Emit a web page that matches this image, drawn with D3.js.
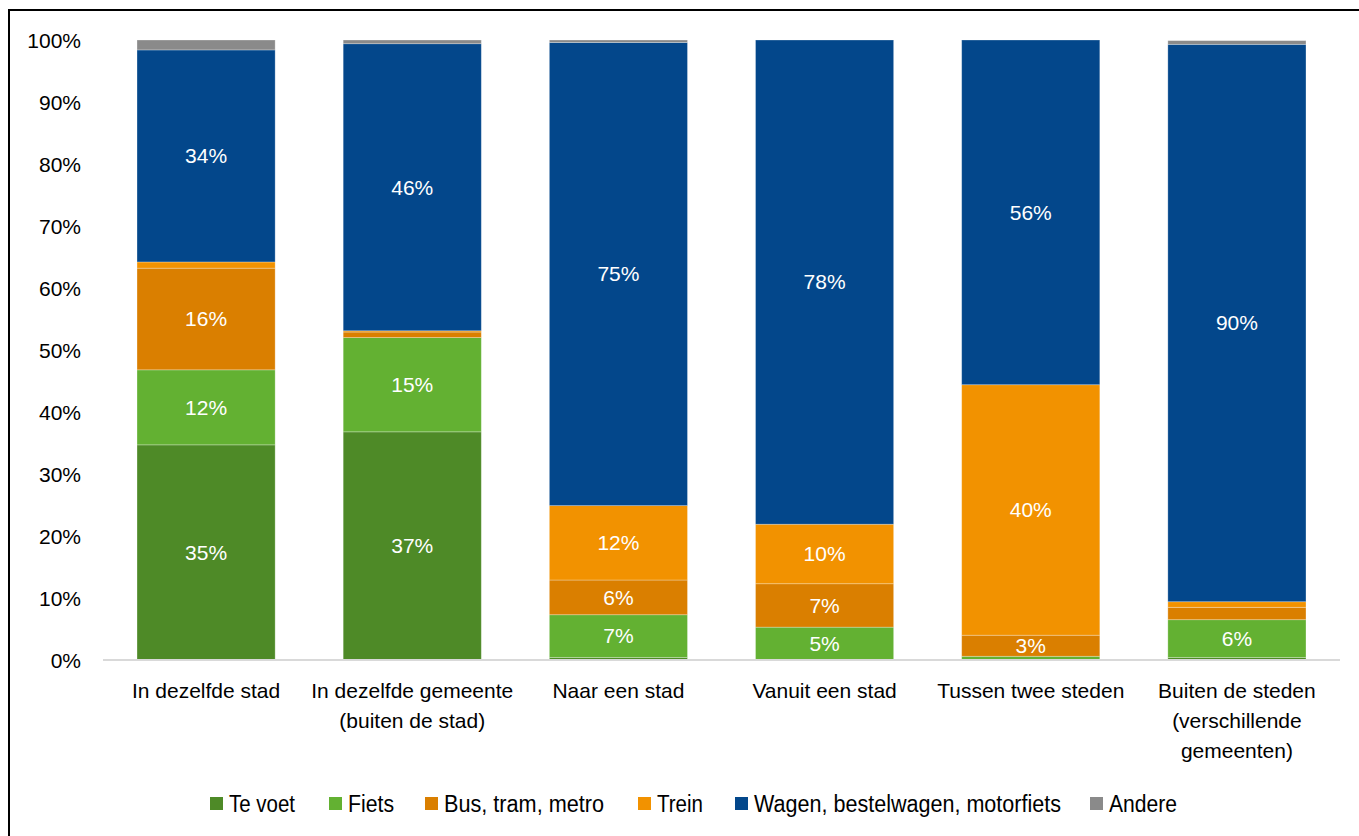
<!DOCTYPE html>
<html>
<head>
<meta charset="utf-8">
<script src="https://cdn.jsdelivr.net/npm/d3@7/dist/d3.min.js"></script>
<style>
  html, body { margin: 0; padding: 0; background: #fff; }
  svg { display: block; }
</style>
</head>
<body>
<svg id="chart" width="1359" height="836"></svg>
<script>
// Verplaatsingen per type traject, aandeel per vervoermiddel (%)
const categories = [
  ["In dezelfde stad"],
  ["In dezelfde gemeente", "(buiten de stad)"],
  ["Naar een stad"],
  ["Vanuit een stad"],
  ["Tussen twee steden"],
  ["Buiten de steden", "(verschillende", "gemeenten)"]
];
const modes = ["Te voet", "Fiets", "Bus, tram, metro", "Trein", "Wagen, bestelwagen, motorfiets", "Andere"];
const teVoet  = [34.7, 36.8, 0.4, 0.1, 0.0, 0.4];
const fiets   = [12.1, 15.2, 6.9, 5.2, 0.6, 6.1];
const bus     = [16.4, 0.9, 5.6, 7.0, 3.4, 2.0];
const trein   = [1.0, 0.2, 12.0, 9.6, 40.4, 0.9];
const wagen   = [34.2, 46.3, 74.7, 78.1, 55.6, 89.9];
const andere  = [1.6, 0.6, 0.4, 0.0, 0.0, 0.6];
const yTicks  = [0, 10, 20, 30, 40, 50, 60, 70, 80, 90, 100];
const colors  = ["#4e8a27", "#63b132", "#da7f00", "#f29200", "#03478b", "#8a8a8a"];

// legend layout (x of each swatch, width of each condensed label)
const legendX = [210, 329, 425, 638, 735, 1090];
const legendW = [66, 46, 160, 46, 307, 68];

const series = [teVoet, fiets, bus, trein, wagen, andere];
const rows = categories.map((c, i) => {
  const r = { key: i };
  modes.forEach((m, j) => { r[m] = series[j][i]; });
  return r;
});

const svg = d3.select("#chart");
const font = "'Liberation Sans', Arial, sans-serif";
const fs = 21;

// frame
svg.append("rect")
  .attr("x", 9).attr("y", 10)
  .attr("width", 1400).attr("height", 900)
  .attr("fill", "none").attr("stroke", "#000").attr("stroke-width", 2);

const x = d3.scaleBand()
  .domain(d3.range(categories.length))
  .range([103, 1340])
  .paddingInner(0.33)
  .paddingOuter(0.165);

const y = d3.scaleLinear().domain([0, 100]).range([660, 40]);

// y axis labels
const yAxis = d3.axisLeft(y).tickValues(yTicks).tickFormat(d => d + "%").tickSize(0).tickPadding(0);
const ya = svg.append("g").attr("transform", "translate(81,0)").call(yAxis);
ya.select(".domain").remove();
ya.selectAll("text")
  .attr("font-family", font).attr("font-size", fs).attr("fill", "#000")
  .attr("dy", "0.35em");

const stack = d3.stack().keys(modes)(rows);

const layer = svg.append("g").selectAll("g")
  .data(stack).join("g")
  .attr("fill", (d, i) => colors[i]);

layer.selectAll("rect")
  .data(d => d.map(v => ({ v, key: d.key })))
  .join("rect")
  .attr("x", d => x(d.v.data.key))
  .attr("width", x.bandwidth())
  .attr("y", d => y(d.v[1]))
  .attr("height", d => Math.max(0, y(d.v[0]) - y(d.v[1])))
  .attr("stroke", "rgba(255,255,255,0.35)")
  .attr("stroke-width", d => (d.v[1] - d.v[0]) > 0 ? 0.8 : 0);

// value labels
const labels = [];
stack.forEach(s => s.forEach(v => {
  const val = v[1] - v[0];
  if (val >= 2.5) labels.push({ v, val });
}));
svg.append("g").selectAll("text")
  .data(labels).join("text")
  .attr("x", d => x(d.v.data.key) + x.bandwidth() / 2)
  .attr("y", d => y((d.v[0] + d.v[1]) / 2))
  .attr("dy", "0.35em")
  .attr("text-anchor", "middle")
  .attr("font-family", font).attr("font-size", fs).attr("fill", "#fff")
  .text(d => Math.round(d.val) + "%");

// x baseline
const xAxis = d3.axisBottom(x).tickSize(0).tickFormat("");
const xa = svg.append("g").attr("transform", "translate(0,660)").call(xAxis);
xa.select(".domain").attr("stroke", "#d9d9d9").attr("stroke-width", 2)
  .attr("d", "M103,0H1340");

// category labels
const cat = svg.append("g").selectAll("text")
  .data(categories).join("text")
  .attr("x", (d, i) => x(i) + x.bandwidth() / 2)
  .attr("y", 698)
  .attr("text-anchor", "middle")
  .attr("font-family", font).attr("font-size", fs).attr("fill", "#000");
cat.selectAll("tspan")
  .data(d => d).join("tspan")
  .attr("x", function () { return this.parentNode.getAttribute("x"); })
  .attr("dy", (d, i) => i === 0 ? 0 : 30)
  .text(d => d);

// legend
const lg = svg.append("g").selectAll("g")
  .data(modes).join("g")
  .attr("transform", (d, i) => `translate(${legendX[i]},797)`);
lg.append("rect").attr("width", 13).attr("height", 13).attr("fill", (d, i) => colors[i]);
lg.append("text")
  .attr("x", 19).attr("y", 6.5).attr("dy", "0.36em")
  .attr("font-family", font)
  .attr("font-size", 23).attr("fill", "#000")
  .attr("textLength", (d, i) => legendW[i])
  .attr("lengthAdjust", "spacingAndGlyphs")
  .text(d => d);
</script>
</body>
</html>
